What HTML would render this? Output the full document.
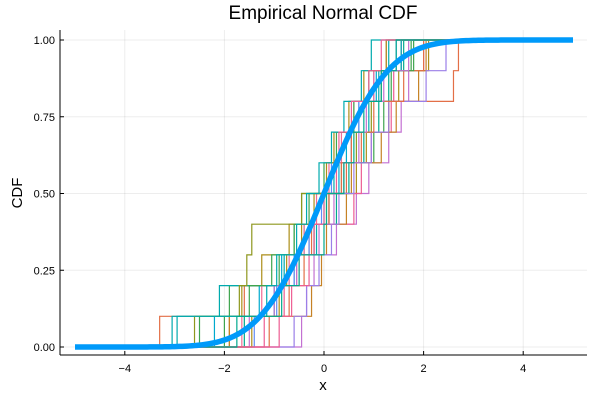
<!DOCTYPE html>
<html><head><meta charset="utf-8"><style>
body{margin:0;background:#fff}
svg{display:block;font-family:"Liberation Sans",sans-serif}
</style></head><body>
<svg id="chart" width="600" height="400">
<rect width="600" height="400" fill="#fff"/>
<g id="grid"></g><g id="series"></g><g id="axes"></g>
<text x="323" y="19" text-anchor="middle" font-size="19" fill="#000">Empirical Normal CDF</text>
<text x="323" y="390" text-anchor="middle" font-size="15">x</text>
<text x="22" y="193" text-anchor="middle" font-size="15" transform="rotate(-90 22 193)">CDF</text>
</svg>
<script>
const xTicks=[-4,-2,0,2,4];
const yTicks=[0,0.25,0.5,0.75,1];
const yTickLabels=["0.00","0.25","0.50","0.75","1.00"];
const colors=["#E36F47","#3EA44E","#C371D2","#AC8E18","#00AAAE","#ED5E93","#C68225","#00A98D","#8E971D","#00A9CD","#9B7FE8","#618DF6","#F16C95","#E36F47","#3EA44E","#C371D2","#AC8E18","#00AAAE","#ED5E93","#00A98D"];
const samples=[
[-3.3,-1.6,-0.55,-0.3,0.1,0.45,0.75,1.3,2.6,2.7],
[-2.0,-1.9,-0.9,-0.6,-0.45,0.35,1.0,1.2,1.35,1.75],
[-0.45,-0.35,-0.2,0.25,0.65,0.9,1.3,1.55,1.7,2.0],
[-1.9,-1.65,-1.25,-0.7,0.05,0.65,0.85,1.3,1.5,2.1],
[-3.05,-2.1,-0.8,-0.15,0.1,0.2,0.55,0.9,1.1,1.3],
[-1.2,-0.8,-0.5,-0.2,0.6,0.75,0.95,1.35,1.4,1.55],
[-1.9,-0.25,-0.05,0.05,0.45,0.55,1.15,1.45,1.9,2.05],
[-1.6,-1.0,-0.6,-0.2,0.25,0.5,0.8,1.1,1.3,1.6],
[-2.6,-1.7,-1.55,-1.45,-0.45,0.4,0.65,0.95,1.15,1.55],
[-2.2,-1.3,-0.85,-0.4,0.0,0.3,0.45,0.7,1.05,1.55],
[-0.6,-0.35,-0.1,0.15,0.3,0.6,0.95,1.3,2.05,2.45],
[-1.4,-0.95,-0.6,-0.3,-0.05,0.15,0.55,0.7,1.0,1.45],
[-1.65,-1.25,-0.7,-0.4,-0.15,0.1,0.35,0.6,1.0,1.25],
[-1.1,-0.7,-0.4,-0.25,0.1,0.35,0.55,1.0,1.6,2.0],
[-2.5,-1.5,-1.05,-0.6,-0.3,0.0,0.25,0.6,0.9,1.8],
[-1.5,-1.0,-0.55,-0.1,0.2,0.4,0.7,0.85,1.2,1.7],
[-1.45,-0.9,-0.75,-0.45,-0.2,0.05,0.2,0.5,0.8,1.25],
[-2.95,-1.15,-0.95,-0.55,-0.35,-0.1,0.15,0.4,0.75,0.95],
[-0.9,-0.65,-0.3,-0.2,0.0,0.25,0.3,0.55,0.9,1.15],
[-1.75,-0.85,-0.5,0.0,0.05,0.4,0.6,0.8,1.15,1.45]
];
const ns="http://www.w3.org/2000/svg";
const X=v=>324+v*49.8, Y=v=>347-v*307;
function mk(t,a,p){const e=document.createElementNS(ns,t);for(const k in a)e.setAttribute(k,a[k]);p.appendChild(e);return e;}
const grid=document.getElementById('grid'),axes=document.getElementById('axes'),ser=document.getElementById('series');
xTicks.forEach(t=>{const l=mk('line',{x1:X(t),x2:X(t),y1:30,y2:355,stroke:'#000','stroke-opacity':0.07},grid);


const tx=mk('text',{x:X(t),y:372,'text-anchor':'middle','font-size':11},axes);tx.textContent=(t<0?'\u2212':'')+Math.abs(t);


mk('line',{x1:X(t),x2:X(t),y1:355,y2:351,stroke:'#000'},axes);});
yTicks.forEach((t,i)=>{const l=mk('line',{x1:60,x2:587,y1:Y(t),y2:Y(t),stroke:'#000','stroke-opacity':0.07},grid);


const tx=mk('text',{x:55,y:Y(t)+4,'text-anchor':'end','font-size':11},axes);tx.textContent=yTickLabels[i];


mk('line',{x1:60,x2:64,y1:Y(t),y2:Y(t),stroke:'#000'},axes);});
mk('line',{x1:60,x2:587,y1:355,y2:355,stroke:'#000'},axes);
mk('line',{x1:60,x2:60,y1:30,y2:355,stroke:'#000'},axes);
samples.forEach((s,si)=>{const n=s.length;let d='M'+X(-5)+','+Y(0);
s.forEach((v,i)=>{d+=' H'+X(v)+' V'+Y((i+1)/n);});
d+=' H'+X(4);
const p=mk('path',{d:d,fill:'none',stroke:colors[si%colors.length],'stroke-width':1.2},ser);

});
function cdf(x){const t=1/(1+0.2316419*Math.abs(x));const d=0.3989423*Math.exp(-x*x/2);
const p=d*t*(0.3193815+t*(-0.3565638+t*(1.781478+t*(-1.821256+t*1.330274))));return x>=0?1-p:p;}
let d='';for(let x=-5;x<=5.0001;x+=0.05)d+=(d?' L':'M')+X(x)+','+Y(cdf(x));
const c=mk('path',{d:d,fill:'none',stroke:'#009AFA','stroke-width':5.5},ser);


</script>
</body></html>
